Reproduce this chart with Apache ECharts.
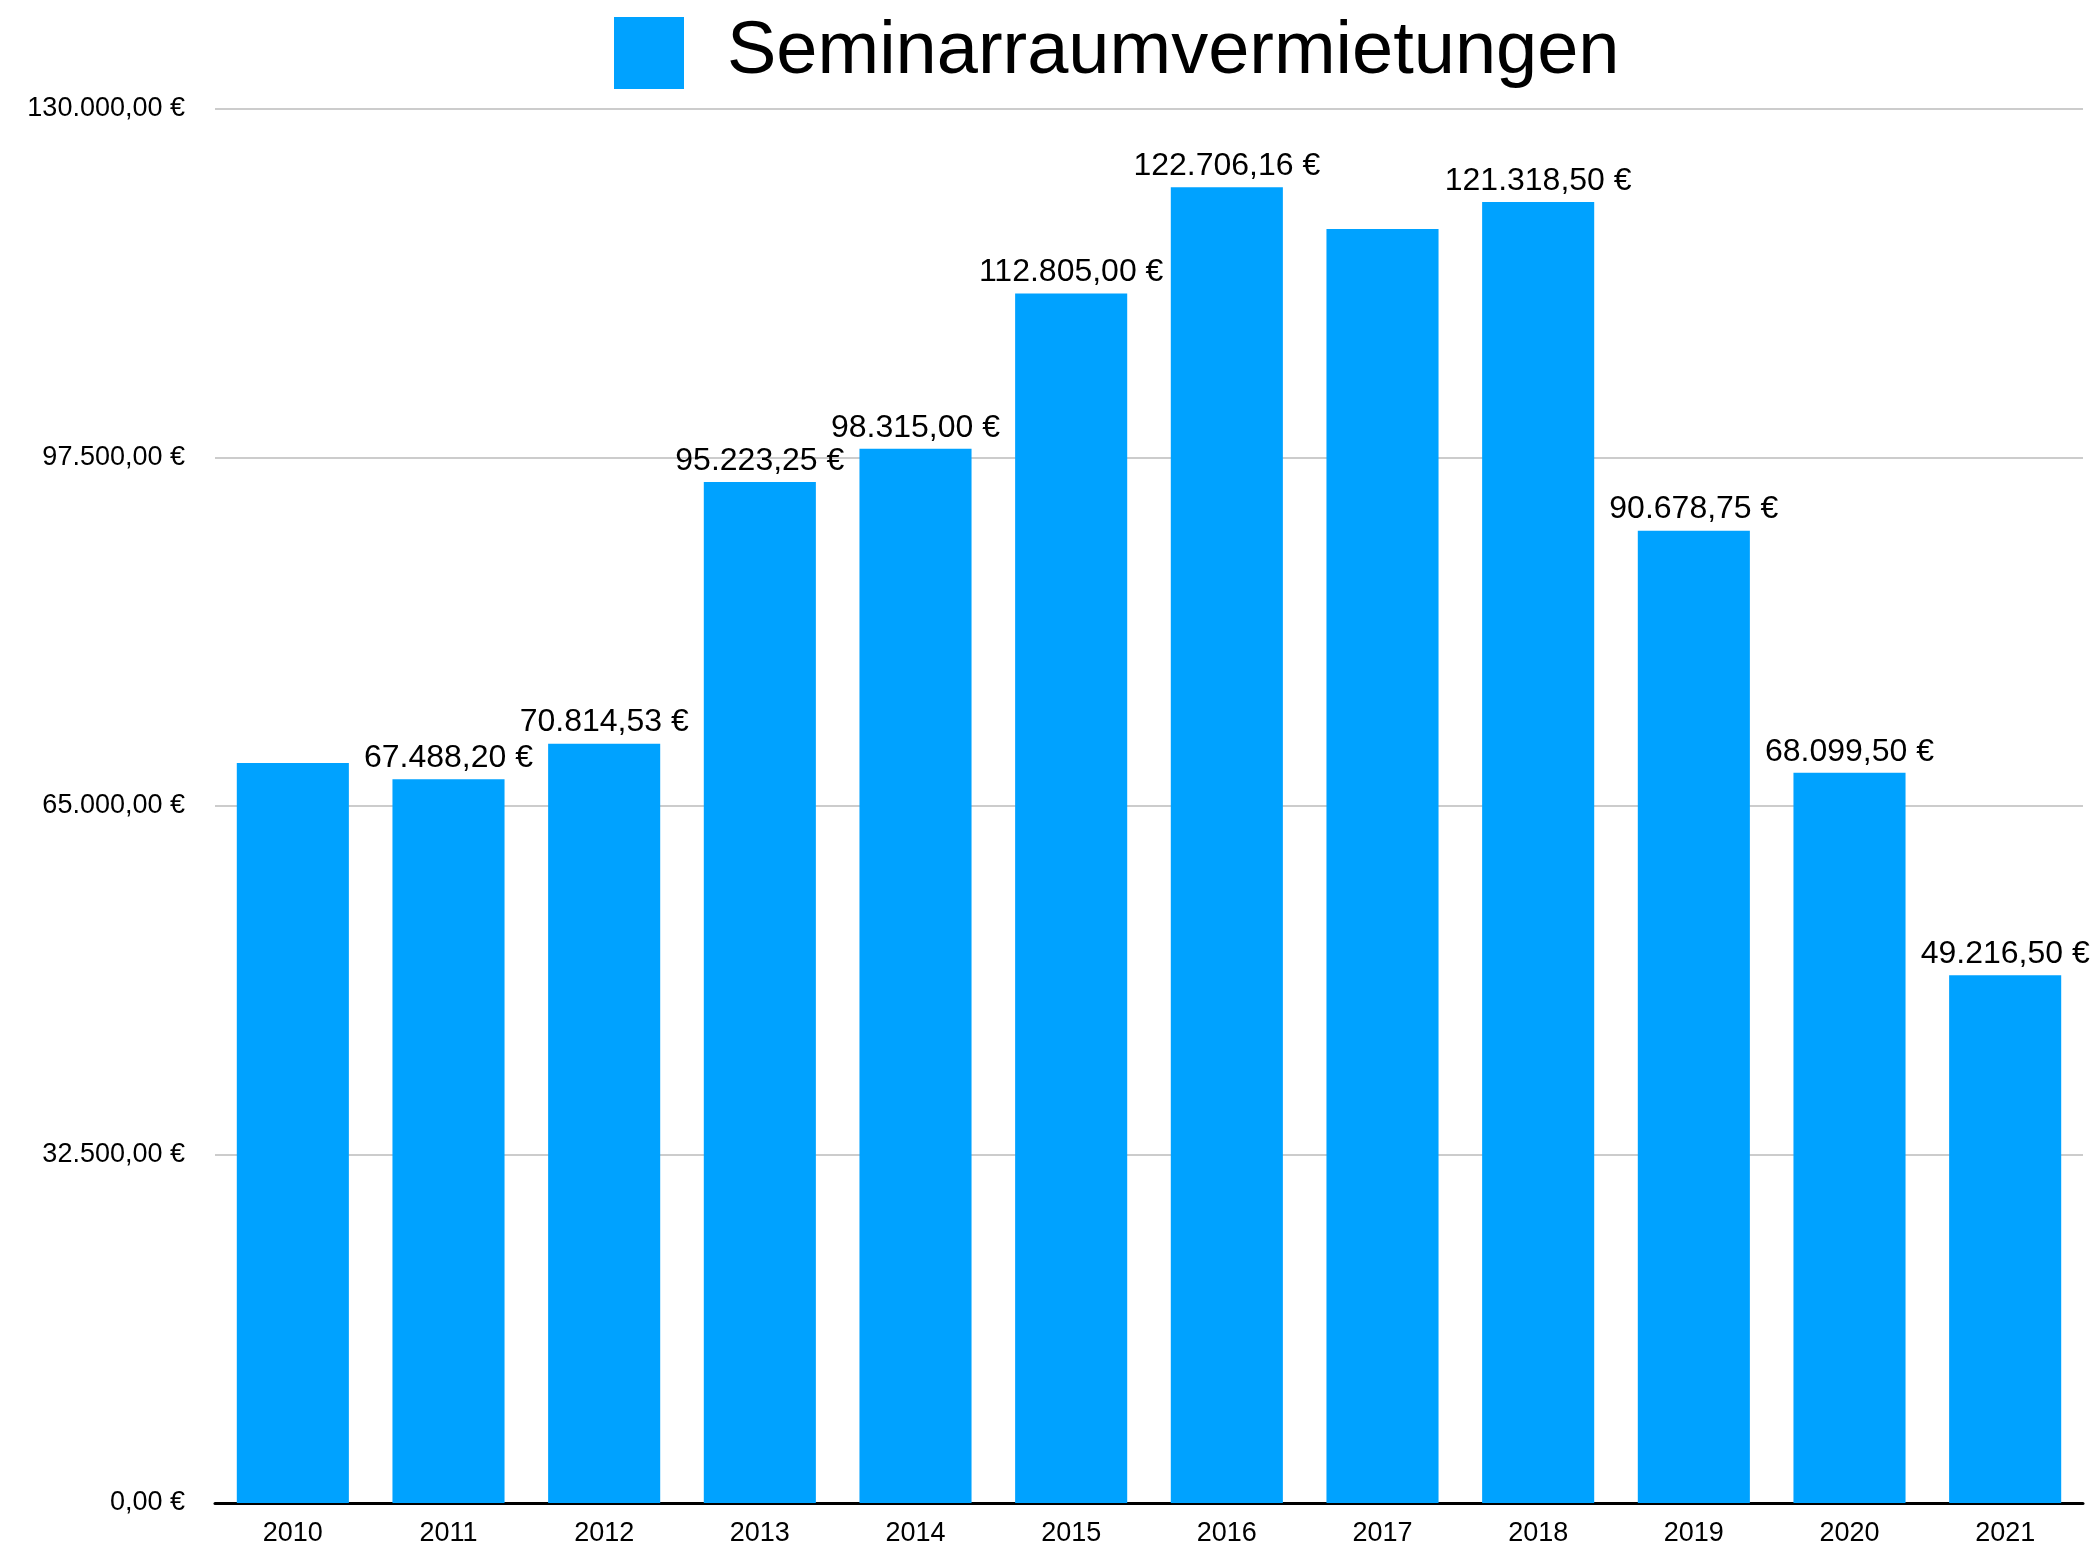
<!DOCTYPE html>
<html>
<head>
<meta charset="utf-8">
<script src="https://cdn.jsdelivr.net/npm/echarts@6/dist/echarts.min.js"></script>
<style>
  html, body { margin: 0; padding: 0; background: #fff; }
  #chart { width: 2091px; height: 1547px; }
</style>
</head>
<body>
<div id="chart"></div>
<script>
const years = ['2010', '2011', '2012', '2013', '2014', '2015', '2016', '2017', '2018', '2019', '2020', '2021']
const revenue = [69000, 67488.20, 70814.53, 95223.25, 98315.00, 112805.00, 122706.16, 118800, 121318.50, 90678.75, 68099.50, 49216.50]
const hiddenLabels = ['2010', '2017']
const seriesName = 'Seminarraumvermietungen'
const yTicks = [0, 32500, 65000, 97500, 130000]

const font = 'Helvetica, "Liberation Sans", Arial, sans-serif'

// 12345.6 -> "12.345,60 €"
function formatEuro(v) {
  const parts = Number(v).toFixed(2).split('.')
  const intPart = parts[0].replace(/\B(?=(\d{3})+(?!\d))/g, '.')
  return intPart + ',' + parts[1] + ' €'
}

const chart = echarts.init(document.getElementById('chart'))

const option = {
  animation: false,
  textStyle: { fontFamily: font },
  legend: {
    data: [seriesName],
    left: 609,
    top: 11,
    itemWidth: 70,
    itemHeight: 72,
    icon: 'rect',
    textStyle: {
      fontSize: 74,
      color: '#000',
      fontFamily: font,
      padding: [0, 0, 0, 38]
    }
  },
  grid: {
    left: 215,
    right: 8,
    top: 109,
    bottom: 40,
    containLabel: false
  },
  xAxis: {
    type: 'category',
    data: years,
    axisLine: { show: true, lineStyle: { color: '#000', width: 3 } },
    axisTick: { show: false },
    axisLabel: { color: '#000', fontSize: 27, margin: 17, fontFamily: font }
  },
  yAxis: {
    type: 'value',
    min: yTicks[0],
    max: yTicks[yTicks.length - 1],
    interval: yTicks[1] - yTicks[0],
    axisLine: { show: false },
    axisTick: { show: false },
    splitLine: { lineStyle: { color: '#cccccc', width: 2 } },
    axisLabel: {
      color: '#000',
      fontSize: 27,
      margin: 30,
      fontFamily: font,
      formatter: (v) => formatEuro(v)
    }
  },
  series: [
    {
      name: seriesName,
      type: 'bar',
      barWidth: '72%',
      itemStyle: { color: '#00a2ff' },
      label: {
        show: true,
        position: 'top',
        distance: 5,
        color: '#000',
        fontSize: 32,
        fontFamily: font,
        formatter: (p) => formatEuro(p.value)
      },
      labelLayout: { hideOverlap: false },
      data: revenue.map((v, i) => ({
        value: v,
        label: { show: hiddenLabels.indexOf(years[i]) === -1 }
      }))
    }
  ]
}

chart.setOption(option)
</script>
</body>
</html>
